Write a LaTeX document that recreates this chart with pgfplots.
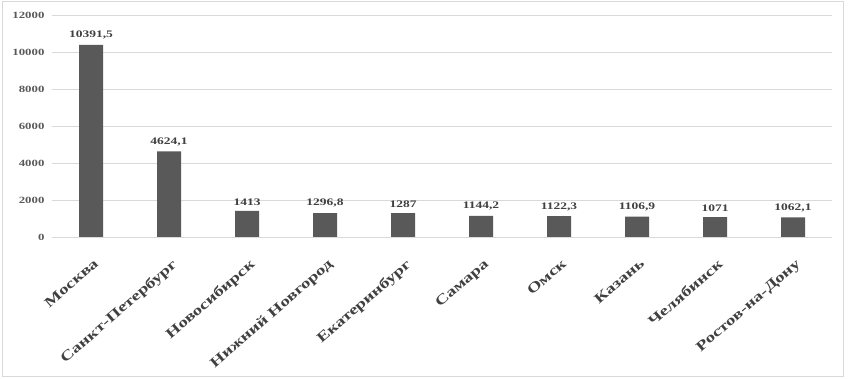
\documentclass[border=0pt]{standalone}
\usepackage{fontspec}
\setmainfont{Liberation Serif}
\newfontfamily\labfont{Liberation Serif}[FakeStretch=1.35]
\usepackage{pgfplots}
\pgfplotsset{compat=1.18}
\definecolor{barc}{HTML}{595959}
\definecolor{txt}{HTML}{404040}
\definecolor{gridc}{HTML}{D9D9D9}
\begin{document}
\begin{tikzpicture}
\begin{axis}[
  at={(52pt,142pt)}, anchor=south west,
  scale only axis, width=780pt, height=222pt,
  xmin=-0.5, xmax=9.5, ymin=0, ymax=12000,
  axis line style={draw=none},
  ytick={0,2000,...,12000},
  ymajorgrids, grid style={gridc, line width=0.8pt},
  major tick length=0pt,
  xtick={0,...,9},
  xticklabels={Москва,Санкт-Петербург,Новосибирск,Нижний Новгород,Екатеринбург,Самара,Омск,Казань,Челябинск,Ростов-на-Дону},
  xticklabel style={font=\labfont\bfseries\fontsize{14}{14}\selectfont, text=txt, rotate=41, anchor=north east, inner sep=1pt, xshift=-11pt, yshift=-16pt},
  yticklabel style={font=\labfont\bfseries\fontsize{9.5}{10}\selectfont, text=barc, anchor=east, xshift=-4pt},
  /pgf/number format/assume math mode=true,
  scaled y ticks=false,
  yticklabel={\pgfmathprintnumber[fixed,1000 sep={}]{\tick}},
  nodes near coords,
  point meta=explicit symbolic,
  every node near coord/.append style={font=\labfont\bfseries\fontsize{10}{10}\selectfont, text=txt, anchor=south, yshift=2pt},
  clip=false,
]
\addplot[ybar, bar width=24pt, fill=barc, draw=none] table[meta=lab] {
x y lab
0 10391.5 10391,5
1 4624.1 4624,1
2 1413 1413
3 1296.8 1296,8
4 1287 1287
5 1144.2 1144,2
6 1122.3 1122,3
7 1106.9 1106,9
8 1071 1071
9 1062.1 1062,1
};
\end{axis}
\pgfresetboundingbox
\draw[gridc, line width=1pt] (2pt,2pt) rectangle (843pt,377pt);
\path[use as bounding box] (0,0) rectangle (849pt,379pt);
\end{tikzpicture}
\end{document}
